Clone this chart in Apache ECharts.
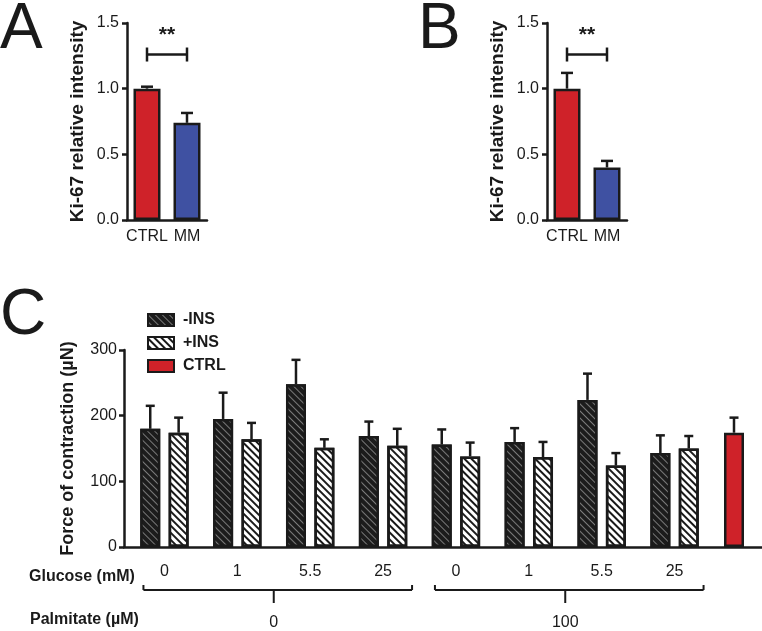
<!DOCTYPE html>
<html>
<head>
<meta charset="utf-8">
<script src="https://cdn.jsdelivr.net/npm/echarts@6/dist/echarts.min.js"></script>
<style>
html, body { margin: 0; padding: 0; background: #fff; }
#main { width: 762px; height: 631px; }
</style>
</head>
<body>
<div id="main"></div>
<script>
// panels A and B: Ki-67 relative intensity
var abCategories = ['CTRL', 'MM'];
var panelAMean = [1.0, 0.74];
var panelASem = [0.015, 0.075];
var panelBMean = [1.0, 0.40];
var panelBSem = [0.12, 0.05];

// panel C: force of contraction (uN)
var glucoseLabels = ['0', '1', '5.5', '25', '0', '1', '5.5', '25'];
var palmitateLabels = ['0', '100'];
var minusIns = [180, 195, 248, 169, 156, 160, 224, 143];
var minusInsSem = [35, 40, 37, 22, 23, 21, 40, 27];
var plusIns = [174, 164, 151, 154, 138, 137, 124, 150];
var plusInsSem = [23, 25, 13, 26, 21, 23, 19, 19];
var ctrlForce = [174];
var ctrlForceSem = [23];

var ink = '#1a1a1a';
var red = '#cf2229';
var blue = '#3f51a2';
var font = 'Liberation Sans, Arial, sans-serif';

var chart = echarts.init(document.getElementById('main'));

function errData(mean, sem) {
	return mean.map(function(m, i) {
		return [i, m, m + sem[i]];
	});
}

function errorSeries(xi, data, offset, capW) {
	return {
		type: 'custom',
		xAxisIndex: xi,
		yAxisIndex: xi,
		z: 5,
		silent: true,
		data: data,
		renderItem: function(params, api) {
			var p0 = api.coord([api.value(0), api.value(1)]);
			var p1 = api.coord([api.value(0), api.value(2)]);
			var cx = p0[0] + offset;
			return {
				type: 'group',
				children: [{
					type: 'line',
					shape: { x1: cx, y1: p0[1], x2: cx, y2: p1[1] },
					style: { stroke: ink, lineWidth: 2.5 }
				}, {
					type: 'line',
					shape: { x1: cx - capW / 2, y1: p1[1], x2: cx + capW / 2, y2: p1[1] },
					style: { stroke: ink, lineWidth: 2.5 }
				}]
			};
		}
	};
}

function abXAxis(gi) {
	return {
		type: 'category',
		gridIndex: gi,
		data: abCategories,
		axisLine: { lineStyle: { color: ink, width: 2.5 } },
		axisTick: { alignWithLabel: true, length: 5, lineStyle: { color: ink, width: 2.5 } },
		axisLabel: { interval: 0, color: ink, fontFamily: font, fontSize: 16, margin: 9 }
	};
}

function abYAxis(gi) {
	return {
		type: 'value',
		gridIndex: gi,
		min: 0,
		max: 1.5,
		interval: 0.5,
		name: 'Ki-67 relative intensity',
		nameLocation: 'middle',
		nameGap: 40,
		nameTextStyle: { color: ink, fontFamily: font, fontSize: 19, fontWeight: 'bold' },
		splitLine: { show: false },
		axisLine: { show: true, lineStyle: { color: ink, width: 2.5 } },
		axisTick: { show: true, length: 5, lineStyle: { color: ink, width: 2.5 } },
		axisLabel: {
			color: ink, fontFamily: font, fontSize: 16, margin: 8,
			formatter: function(v) { return v.toFixed(1); }
		}
	};
}

function abBars(gi, mean) {
	return {
		type: 'bar',
		xAxisIndex: gi,
		yAxisIndex: gi,
		barWidth: 27,
		data: mean.map(function(v, i) {
			return { value: v, itemStyle: { color: i === 0 ? red : blue } };
		}),
		itemStyle: { borderColor: ink, borderWidth: 2.5 }
	};
}

var hatchDark = {
	symbol: 'rect', symbolSize: 1,
	dashArrayX: [1, 0], dashArrayY: [1, 3.5],
	rotation: Math.PI / 4,
	color: '#7a7a7a'
};
var hatchLight = {
	symbol: 'rect', symbolSize: 1,
	dashArrayX: [1, 0], dashArrayY: [1.5, 3],
	rotation: Math.PI / 4,
	color: '#1a1a1a'
};

var cAxisC = {
	color: ink, width: 2.5
};

option = {
	backgroundColor: '#fff',
	animation: false,
	textStyle: { fontFamily: font },
	legend: {
		orient: 'vertical',
		left: 142,
		top: 307,
		itemWidth: 26,
		itemHeight: 12,
		itemGap: 7,
		icon: 'rect',
		data: ['-INS', '+INS', 'CTRL'],
		textStyle: { color: ink, fontFamily: font, fontSize: 16, fontWeight: 'bold', lineHeight: 12, padding: [0, 0, 0, 4] }
	},
	grid: [
		{ left: 127, top: 23, width: 80, height: 197 },
		{ left: 547, top: 23, width: 80, height: 197 },
		{ left: 128, top: 350, width: 583, height: 197 },
		{ left: 711, top: 350, width: 46, height: 197 },
		{ left: 124, top: 350, right: 0, height: 197 }
	],
	xAxis: [
		abXAxis(0),
		abXAxis(1),
		{
			type: 'category',
			gridIndex: 2,
			data: glucoseLabels,
			axisLine: { show: false },
			axisTick: { alignWithLabel: true, length: 6, lineStyle: cAxisC },
			axisLabel: { interval: 0, color: ink, fontFamily: font, fontSize: 16, margin: 17 }
		},
		{
			type: 'category',
			gridIndex: 3,
			data: ['CTRL'],
			axisLine: { show: false },
			axisTick: { alignWithLabel: true, length: 6, lineStyle: cAxisC },
			axisLabel: { show: false }
		},
		{
			type: 'category',
			gridIndex: 4,
			data: [''],
			axisLine: { lineStyle: cAxisC },
			axisTick: { show: false },
			axisLabel: { show: false }
		}
	],
	yAxis: [
		abYAxis(0),
		abYAxis(1),
		{
			type: 'value',
			gridIndex: 2,
			min: 0,
			max: 300,
			interval: 100,
			offset: 4,
			name: 'Force of contraction (\u00b5N)',
			nameLocation: 'middle',
			nameGap: 47,
			nameTextStyle: { color: ink, fontFamily: font, fontSize: 18, fontWeight: 'bold' },
			splitLine: { show: false },
			axisLine: { show: true, lineStyle: cAxisC },
			axisTick: { show: true, length: 5, lineStyle: cAxisC },
			axisLabel: { color: ink, fontFamily: font, fontSize: 16, margin: 7 }
		},
		{ type: 'value', gridIndex: 3, min: 0, max: 300, show: false },
		{ type: 'value', gridIndex: 4, min: 0, max: 300, show: false }
	],
	series: [
		abBars(0, panelAMean),
		errorSeries(0, errData(panelAMean, panelASem), 0, 12),
		abBars(1, panelBMean),
		errorSeries(1, errData(panelBMean, panelBSem), 0, 12),
		{
			name: '-INS',
			type: 'bar',
			xAxisIndex: 2,
			yAxisIndex: 2,
			barWidth: 20,
			barGap: '42%',
			data: minusIns,
			itemStyle: { color: '#1c1c1c', borderColor: ink, borderWidth: 2.5, decal: hatchDark }
		},
		{
			name: '+INS',
			type: 'bar',
			xAxisIndex: 2,
			yAxisIndex: 2,
			barWidth: 20,
			barGap: '42%',
			data: plusIns,
			itemStyle: { color: '#ffffff', borderColor: ink, borderWidth: 2.5, decal: hatchLight }
		},
		{
			name: 'CTRL',
			type: 'bar',
			xAxisIndex: 3,
			yAxisIndex: 3,
			barWidth: 20,
			data: ctrlForce,
			itemStyle: { color: red, borderColor: ink, borderWidth: 2.5 }
		},
		errorSeries(2, errData(minusIns, minusInsSem), -14.2, 9),
		errorSeries(2, errData(plusIns, plusInsSem), 14.2, 9),
		errorSeries(3, errData(ctrlForce, ctrlForceSem), 0, 9)
	]
};

chart.setOption(option);

// annotations placed from the axes' own pixel mapping
function px(idx, x, y) {
	return chart.convertToPixel({ xAxisIndex: idx, yAxisIndex: idx }, [x, y]);
}

var graphics = [];
graphics.push({ type: 'text', left: 0, top: -2, style: { text: 'A', fill: ink, font: '64px ' + font } });
graphics.push({ type: 'text', left: 418, top: -2, style: { text: 'B', fill: ink, font: '64px ' + font } });
graphics.push({ type: 'text', left: 0, top: 284, style: { text: 'C', fill: ink, font: '64px ' + font } });

[0, 1].forEach(function(gi) {
	var a = px(gi, 0, 1.26);
	var b = px(gi, 1, 1.26);
	var ls = { stroke: ink, lineWidth: 2.5 };
	graphics.push({ type: 'line', shape: { x1: a[0], y1: a[1], x2: b[0], y2: b[1] }, style: ls });
	graphics.push({ type: 'line', shape: { x1: a[0], y1: a[1] - 7, x2: a[0], y2: a[1] + 7 }, style: ls });
	graphics.push({ type: 'line', shape: { x1: b[0], y1: b[1] - 7, x2: b[0], y2: b[1] + 7 }, style: ls });
	graphics.push({
		type: 'text', x: (a[0] + b[0]) / 2, y: a[1] - 9,
		style: { text: '**', fill: ink, font: 'bold 21px ' + font, textAlign: 'center', textVerticalAlign: 'bottom' }
	});
});

var base = px(2, 0, 0)[1];
graphics.push({
	type: 'text', x: 29, y: base + 30,
	style: { text: 'Glucose (mM)', fill: ink, font: 'bold 16px ' + font, textVerticalAlign: 'middle' }
});
graphics.push({
	type: 'text', x: 30, y: base + 73,
	style: { text: 'Palmitate (\u00b5M)', fill: ink, font: 'bold 16px ' + font, textVerticalAlign: 'middle' }
});

palmitateLabels.forEach(function(lab, k) {
	var l = px(2, k * 4, 0)[0] - 21;
	var r = px(2, k * 4 + 3, 0)[0] + 29;
	var m = (px(2, k * 4, 0)[0] + px(2, k * 4 + 3, 0)[0]) / 2;
	var y = base + 43;
	var ls = { stroke: ink, lineWidth: 2 };
	graphics.push({ type: 'line', shape: { x1: l, y1: y, x2: r, y2: y }, style: ls });
	graphics.push({ type: 'line', shape: { x1: l, y1: y - 5, x2: l, y2: y }, style: ls });
	graphics.push({ type: 'line', shape: { x1: r, y1: y - 5, x2: r, y2: y }, style: ls });
	graphics.push({ type: 'line', shape: { x1: m, y1: y, x2: m, y2: y + 13 }, style: ls });
	graphics.push({
		type: 'text', x: m, y: y + 33,
		style: { text: lab, fill: ink, font: '16px ' + font, textAlign: 'center', textVerticalAlign: 'middle' }
	});
});

chart.setOption({ graphic: graphics });

window.addEventListener('resize', function() {
	chart.resize();
});
</script>
</body>
</html>
